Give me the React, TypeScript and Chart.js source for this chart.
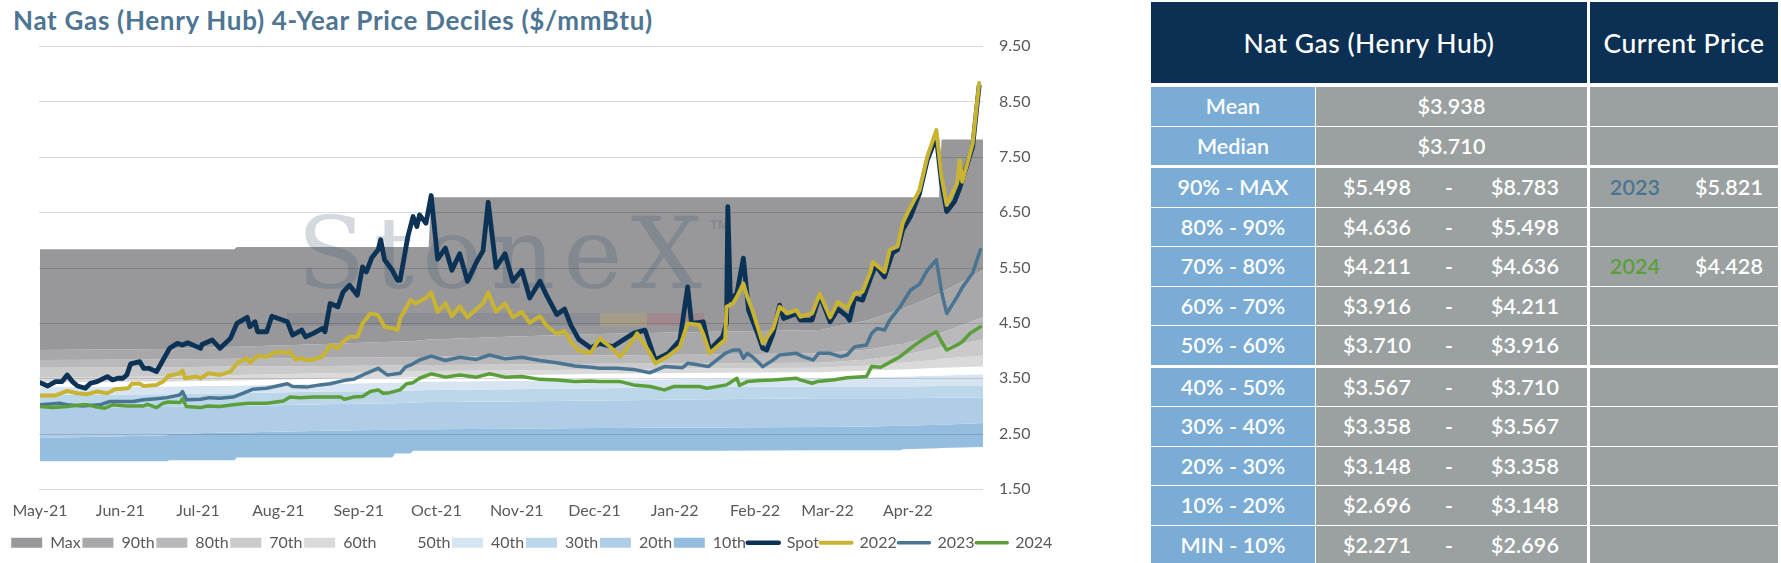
import React, { useEffect, useRef } from 'react';
import { Chart, registerables } from 'chart.js';

Chart.register(...registerables);

const FONT = 'Lato, "Noto Sans", sans-serif';
const AXIS_GREY = '#595959';

// ---------- axis labels ----------
const monthLabels = ['May-21', 'Jun-21', 'Jul-21', 'Aug-21', 'Sep-21', 'Oct-21', 'Nov-21', 'Dec-21', 'Jan-22', 'Feb-22', 'Mar-22', 'Apr-22'];
const monthStartDays = [0, 31, 61, 92, 123, 153, 184, 214, 245, 276, 304, 335];
const yTicks = [1.5, 2.5, 3.5, 4.5, 5.5, 6.5, 7.5, 8.5, 9.5];

// ---------- decile band boundaries (day index since May-21) ----------
const bandDays = [0, 49, 50, 75, 76, 110, 136, 137, 143, 144, 150, 151, 180, 216, 260, 301, 320, 332, 333, 347, 348, 364];
const bandMinVals = [2.0, 2.0, 2.02, 2.02, 2.07, 2.07, 2.07, 2.14, 2.14, 2.19, 2.19, 2.19, 2.19, 2.19, 2.19, 2.2, 2.2, 2.2, 2.22, 2.235, 2.24, 2.26];
const band10Vals = [2.42, 2.47, 2.5, 2.52, 2.52, 2.55, 2.57, 2.57, 2.58, 2.58, 2.58, 2.58, 2.59, 2.6, 2.61, 2.62, 2.63, 2.64, 2.64, 2.66, 2.66, 2.69];
const band20Vals = [2.97, 2.98, 2.98, 3.0, 3.0, 3.03, 3.05, 3.05, 3.06, 3.06, 3.07, 3.07, 3.08, 3.1, 3.12, 3.14, 3.14, 3.14, 3.14, 3.15, 3.15, 3.15];
const band30Vals = [3.2, 3.21, 3.21, 3.23, 3.23, 3.26, 3.27, 3.27, 3.28, 3.28, 3.29, 3.29, 3.3, 3.32, 3.34, 3.35, 3.35, 3.35, 3.35, 3.36, 3.36, 3.36];
const band40Vals = [3.34, 3.35, 3.35, 3.37, 3.37, 3.4, 3.42, 3.42, 3.43, 3.43, 3.44, 3.44, 3.45, 3.47, 3.49, 3.5, 3.52, 3.53, 3.53, 3.55, 3.55, 3.57];
const band50Vals = [3.43, 3.44, 3.44, 3.46, 3.46, 3.49, 3.51, 3.51, 3.52, 3.52, 3.53, 3.53, 3.55, 3.58, 3.6, 3.61, 3.64, 3.66, 3.66, 3.69, 3.69, 3.71];
const band60Vals = [3.51, 3.53, 3.53, 3.56, 3.56, 3.59, 3.61, 3.61, 3.62, 3.62, 3.63, 3.63, 3.64, 3.66, 3.68, 3.69, 3.73, 3.78, 3.78, 3.84, 3.85, 3.91];
const band70Vals = [3.69, 3.7, 3.7, 3.71, 3.71, 3.72, 3.73, 3.73, 3.73, 3.73, 3.74, 3.74, 3.75, 3.76, 3.77, 3.78, 3.84, 3.92, 3.92, 4.05, 4.06, 4.2];
const band80Vals = [3.83, 3.84, 3.84, 3.85, 3.85, 3.87, 3.88, 3.88, 3.88, 3.88, 3.89, 3.89, 3.9, 3.91, 3.93, 3.95, 4.02, 4.12, 4.12, 4.3, 4.32, 4.6];
const band90Vals = [4.01, 4.03, 4.03, 4.07, 4.07, 4.12, 4.16, 4.16, 4.17, 4.17, 4.2, 4.2, 4.25, 4.3, 4.34, 4.37, 4.55, 4.75, 4.75, 5.02, 5.05, 5.45];
const bandMaxVals = [5.83, 5.83, 5.83, 5.83, 5.87, 5.87, 5.87, 5.87, 5.87, 5.87, 5.87, 6.77, 6.77, 6.77, 6.77, 6.77, 6.77, 6.77, 6.77, 6.77, 7.81, 7.81];

const bandLabels = ['Max', '90th', '80th', '70th', '60th', '50th', '40th', '30th', '20th', '10th'];
const bandValues = [bandMaxVals, band90Vals, band80Vals, band70Vals, band60Vals, band50Vals, band40Vals, band30Vals, band20Vals, band10Vals];
const bandColors = ['#98989a', '#a8a8aa', '#b9b9bb', '#cacaca', '#dadada', '#ffffff', '#d7e5f2', '#bdd7ea', '#afcde6', '#95bddf'];

// ---------- price lines: [day, $/mmBtu] ----------
const spotPts = [[0, 3.42], [3, 3.36], [6, 3.44], [8.5, 3.44], [10.5, 3.56], [12.5, 3.44], [14.5, 3.36], [17.5, 3.32], [19.5, 3.41], [22, 3.44], [26, 3.53], [28, 3.47], [30, 3.5], [32, 3.5], [33.5, 3.56], [35, 3.76], [38.5, 3.8], [40, 3.68], [42, 3.68], [45, 3.62], [47.5, 3.83], [50, 4.04], [53, 4.13], [55, 4.1], [57, 4.14], [62, 4.04], [62.5, 4.11], [66.5, 4.19], [69.5, 4.04], [73.5, 4.22], [76, 4.49], [80, 4.6], [81, 4.43], [83, 4.52], [84, 4.34], [87.5, 4.34], [89.5, 4.62], [92, 4.58], [95.5, 4.52], [97.5, 4.28], [101, 4.37], [102.5, 4.25], [105.5, 4.31], [109, 4.4], [110, 4.34], [112, 4.85], [115, 4.79], [117, 5.06], [119.5, 5.18], [122.5, 5.0], [124.5, 5.51], [126, 5.42], [128, 5.67], [130.5, 5.82], [131.5, 6.0], [133, 5.64], [136, 5.45], [138, 5.27], [139, 5.27], [142, 6.06], [144, 6.42], [145.5, 6.24], [146.5, 6.45], [149, 6.3], [151, 6.8], [153.5, 5.65], [156.5, 5.85], [159, 5.45], [162, 5.75], [165, 5.25], [168.5, 5.6], [171, 5.8], [173, 6.68], [176, 5.5], [179.5, 5.75], [182.5, 5.25], [186, 5.45], [189, 4.95], [193, 5.25], [195.5, 5.0], [199.5, 4.65], [202.5, 4.75], [205, 4.45], [208, 4.2], [212.5, 4.05], [216, 4.13], [221, 4.07], [229, 4.31], [233.5, 4.37], [237.5, 3.83], [242.5, 3.95], [247, 4.19], [250, 5.15], [251.5, 4.49], [256, 4.52], [258.5, 4.01], [263.5, 4.25], [265, 4.5], [265.5, 6.6], [266.5, 4.91], [269, 5.03], [271.5, 5.67], [273.5, 4.73], [277, 4.31], [279, 4.04], [280.5, 4.01], [283, 4.31], [285.5, 4.82], [287, 4.58], [292, 4.67], [293.5, 4.55], [298, 4.55], [301, 5.0], [305, 4.52], [308, 4.75], [311.5, 4.62], [312.5, 4.55], [314.5, 4.95], [317.5, 4.91], [320.5, 5.3], [322.5, 5.54], [326, 5.33], [329, 5.76], [331, 5.82], [333, 6.18], [336, 6.42], [339.5, 6.84], [342.5, 7.44], [346, 7.86], [348, 7.02], [350, 6.51], [353, 6.69], [355, 6.93], [356, 7.08], [360, 7.68], [362.5, 8.78]];
const strip2022Pts = [[0, 3.19], [6, 3.19], [10.5, 3.27], [14.5, 3.23], [18, 3.21], [22, 3.26], [26, 3.23], [29, 3.3], [34, 3.32], [35.5, 3.4], [38.5, 3.4], [40, 3.36], [45, 3.38], [47.5, 3.44], [49.5, 3.54], [54, 3.59], [55, 3.64], [56, 3.5], [60.5, 3.53], [62, 3.5], [65, 3.59], [69.5, 3.56], [73.5, 3.62], [75.5, 3.74], [77, 3.8], [80, 3.86], [81, 3.78], [84, 3.9], [87.5, 3.89], [91.5, 3.98], [95.5, 3.96], [96.5, 3.98], [98.5, 3.84], [101, 3.86], [102.5, 3.83], [105, 3.83], [109, 3.89], [112, 4.1], [115, 4.04], [117, 4.16], [119.5, 4.25], [122.5, 4.25], [124.5, 4.49], [127.5, 4.67], [130.5, 4.64], [133, 4.43], [136, 4.4], [138, 4.37], [139, 4.58], [143, 4.91], [145, 4.85], [149, 4.95], [151, 5.05], [153.5, 4.7], [156.5, 4.85], [159, 4.62], [162, 4.8], [165, 4.6], [168.5, 4.75], [171, 4.85], [173, 5.05], [176, 4.7], [179.5, 4.85], [182.5, 4.6], [186, 4.7], [189, 4.5], [193, 4.62], [195.5, 4.45], [199.5, 4.3], [202.5, 4.35], [205, 4.15], [208, 4.0], [212.5, 3.95], [216, 4.22], [220, 4.07], [224, 3.89], [229, 4.2], [230.5, 4.31], [235.5, 3.95], [237.5, 3.77], [242.5, 3.9], [247, 4.07], [250, 4.49], [254.5, 4.46], [256, 4.3], [258.5, 3.95], [264.5, 4.2], [265, 4.79], [267.5, 4.85], [269, 4.97], [271.5, 5.21], [273, 4.97], [275, 4.73], [277, 4.43], [279, 4.13], [283, 4.4], [285.5, 4.79], [288.5, 4.67], [292, 4.73], [293.5, 4.61], [298, 4.67], [301, 5.03], [305, 4.6], [308, 4.88], [311.5, 4.76], [314.5, 5.03], [317.5, 5.06], [320.5, 5.42], [321.5, 5.6], [326, 5.42], [328, 5.82], [331, 5.88], [333, 6.3], [335, 6.5], [339.5, 6.9], [342.5, 7.5], [346, 7.98], [348, 7.14], [350, 6.63], [354, 7.02], [355, 7.44], [356, 7.05], [360, 7.74], [362.5, 8.83]];
const strip2023Pts = [[0, 3.02], [7.5, 3.05], [10.5, 3.02], [16.5, 3.0], [23, 3.02], [27, 3.08], [36, 3.08], [40, 3.11], [45, 3.13], [49, 3.15], [54, 3.2], [55, 3.26], [56.5, 3.11], [62, 3.12], [65.5, 3.15], [69.5, 3.14], [74.5, 3.16], [78.5, 3.23], [82, 3.3], [87.5, 3.32], [95.5, 3.4], [97.5, 3.35], [103, 3.34], [108, 3.38], [112, 3.4], [118.5, 3.47], [121, 3.48], [126, 3.59], [130.5, 3.68], [134, 3.56], [139, 3.59], [141, 3.7], [144, 3.76], [146.5, 3.83], [151, 3.9], [156.5, 3.82], [162, 3.88], [168.5, 3.84], [173.5, 3.92], [179.5, 3.85], [186, 3.88], [193, 3.82], [199.5, 3.78], [206.5, 3.72], [212.5, 3.7], [216, 3.68], [222.5, 3.68], [229, 3.66], [235.5, 3.6], [241, 3.71], [248, 3.69], [250, 3.77], [254.5, 3.74], [258, 3.71], [264.5, 3.95], [267.5, 4.01], [270, 4.01], [271.5, 3.86], [273, 3.95], [275, 3.89], [279, 3.71], [283, 3.83], [285.5, 3.92], [292, 3.95], [294.5, 3.89], [298.5, 3.83], [300.5, 3.95], [305, 3.95], [309, 3.89], [311.5, 3.92], [314.5, 4.07], [319, 4.1], [321, 4.31], [323, 4.4], [326, 4.37], [328, 4.55], [332, 4.79], [336, 5.09], [339.5, 5.2], [342.5, 5.45], [346, 5.64], [348, 5.06], [350, 4.67], [354, 4.97], [356, 5.14], [360, 5.4], [363, 5.82]];
const strip2024Pts = [[0, 2.99], [5, 2.97], [10.5, 2.99], [16.5, 3.02], [18.5, 3.02], [22, 2.98], [25, 2.96], [28, 3.02], [33.5, 3.0], [40, 3.0], [41.5, 3.03], [45, 2.97], [47.5, 3.05], [49.5, 3.07], [54, 3.06], [55, 3.13], [56.5, 2.99], [62, 2.97], [64.5, 3.0], [69.5, 2.99], [74.5, 3.02], [80.5, 3.05], [87.5, 3.05], [94, 3.09], [96.5, 3.16], [100.5, 3.15], [105.5, 3.16], [113, 3.16], [116, 3.16], [117.5, 3.12], [121, 3.16], [124.5, 3.17], [127.5, 3.26], [130.5, 3.29], [132.5, 3.23], [135, 3.24], [139, 3.29], [141.5, 3.4], [144, 3.42], [146.5, 3.5], [151, 3.58], [156.5, 3.52], [162, 3.56], [168.5, 3.52], [173.5, 3.58], [179.5, 3.52], [186, 3.53], [193, 3.48], [199.5, 3.47], [206.5, 3.44], [212.5, 3.45], [216, 3.44], [224, 3.44], [229, 3.38], [235.5, 3.35], [241, 3.29], [244.5, 3.35], [254.5, 3.35], [257.5, 3.32], [265, 3.38], [269, 3.5], [270, 3.37], [273, 3.44], [278, 3.46], [283, 3.47], [292, 3.5], [293.5, 3.47], [298, 3.41], [300, 3.44], [306, 3.47], [311.5, 3.51], [319, 3.53], [321, 3.71], [324.5, 3.7], [328.5, 3.8], [332, 3.89], [336, 4.04], [339.5, 4.16], [342.5, 4.25], [346, 4.34], [348, 4.16], [350, 4.01], [354, 4.1], [356, 4.16], [359, 4.31], [361, 4.37], [363, 4.43]];

const lineLabels = ['Spot', '2022', '2023', '2024'];
const lineValues = [spotPts, strip2022Pts, strip2023Pts, strip2024Pts];
const lineColors = ['#0c3356', '#c8b432', '#4a7592', '#5b9f3b'];
const lineWidths = [4.8, 4, 3.5, 3.5];

// ---------- table ----------
const tableLabels = ['Mean', 'Median', '90% - MAX', '80% - 90%', '70% - 80%', '60% - 70%', '50% - 60%', '40% - 50%', '30% - 40%', '20% - 30%', '10% - 20%', 'MIN - 10%'];
const tableLow = ['$3.938', '$3.710', '$5.498', '$4.636', '$4.211', '$3.916', '$3.710', '$3.567', '$3.358', '$3.148', '$2.696', '$2.271'];
const tableHigh = ['', '', '$8.783', '$5.498', '$4.636', '$4.211', '$3.916', '$3.710', '$3.567', '$3.358', '$3.148', '$2.696'];
const currentYears = ['', '', '2023', '', '2024', '', '', '', '', '', '', ''];
const currentPrices = ['', '', '$5.821', '', '$4.428', '', '', '', '', '', '', ''];
const yearColors: Record<string, string> = { '2023': '#4a7592', '2024': '#5b9f3b' };

const toXY = (days: number[], vals: number[]) => days.map((d, i) => ({ x: d, y: vals[i] }));
const pairsToXY = (p: number[][]) => p.map(([x, y]) => ({ x, y }));

const overlayPlugin = {
  id: 'overlay',
  beforeDatasetsDraw(chart: any) {
    const { ctx, chartArea: ca, scales } = chart;
    const ys = scales.y;
    ctx.save();
    // grid lines over the bands
    ctx.strokeStyle = 'rgba(0,0,0,0.15)';
    ctx.lineWidth = 1;
    yTicks.forEach((v) => {
      const py = Math.round(ys.getPixelForValue(v)) + 0.5;
      ctx.beginPath();
      ctx.moveTo(ca.left - 1, py);
      ctx.lineTo(ca.right, py);
      ctx.stroke();
    });
    // StoneX watermark
    const L = ca.left;
    const T = ca.top;
    ctx.fillStyle = 'rgba(55,80,105,0.22)';
    ctx.font = '100px "DejaVu Serif", "Liberation Serif", serif';
    ctx.textBaseline = 'alphabetic';
    const word = 'StoneX'.split('');
    const widths = word.map((c) => ctx.measureText(c).width);
    const total = widths.reduce((a, b) => a + b, 0);
    const gap = (405 - total) / (word.length - 1);
    let cx = L + 257;
    word.forEach((c, i) => {
      ctx.fillText(c, cx, T + 242);
      cx += widths[i] + gap;
    });
    ctx.font = 'bold 13px "Liberation Sans", sans-serif';
    ctx.fillText('TM', L + 670, T + 183);
    ctx.fillStyle = 'rgba(60,75,95,0.12)';
    ctx.fillRect(L + 247, T + 267, 313, 13);
    ctx.fillStyle = 'rgba(220,170,60,0.18)';
    ctx.fillRect(L + 560, T + 267, 47, 13);
    ctx.fillStyle = 'rgba(200,70,80,0.18)';
    ctx.fillRect(L + 607, T + 267, 57, 13);
    ctx.restore();
  },
};

function NatGasChart() {
  const ref = useRef<HTMLCanvasElement | null>(null);
  useEffect(() => {
    if (!ref.current) return;
    const bandSets = bandLabels.map((label, i) => ({
      label,
      data: toXY(bandDays, bandValues[i]),
      backgroundColor: bandColors[i],
      borderColor: bandColors[i],
      borderWidth: 0,
      pointRadius: 0,
      fill: i < bandLabels.length - 1 ? '+1' : bandLabels.length + lineLabels.length,
      order: 10,
    }));
    const lineSets = lineLabels.map((label, i) => ({
      label,
      data: pairsToXY(lineValues[i]),
      borderColor: lineColors[i],
      backgroundColor: lineColors[i],
      borderWidth: lineWidths[i],
      pointRadius: 0,
      fill: false,
      tension: 0,
      borderJoinStyle: 'round',
      borderCapStyle: 'round',
      order: 4 - i,
    }));
    const minSet = {
      label: '',
      data: toXY(bandDays, bandMinVals),
      backgroundColor: 'rgba(0,0,0,0)',
      borderWidth: 0,
      pointRadius: 0,
      fill: false,
      order: 10,
    };
    const datasets: any[] = [...bandSets, ...lineSets, minSet];
    const chart = new Chart(ref.current, {
      type: 'line',
      data: { datasets },
      options: {
        responsive: false,
        animation: false,
        events: [],
        layout: { padding: { left: 9.5, right: 7, top: 46, bottom: 2.3 } },
        plugins: {
          tooltip: { enabled: false },
          title: { display: false },
          filler: { drawTime: 'beforeDatasetsDraw', propagate: false },
          legend: {
            position: 'bottom',
            align: 'start',
            onClick: () => {},
            labels: {
              font: { family: FONT, size: 16 },
              color: AXIS_GREY,
              usePointStyle: true,
              pointStyleWidth: 31,
              boxHeight: 10,
              padding: 1.7,
              generateLabels: (c: any) =>
                c.data.datasets
                  .map((ds: any, i: number) => ({ ds, i }))
                  .filter(({ ds }: any) => ds.label)
                  .map(({ ds, i }: any) => {
                    const isLine = ds.fill === false;
                    return {
                      text: ds.label,
                      fillStyle: ds.backgroundColor,
                      strokeStyle: ds.borderColor,
                      lineWidth: isLine ? Math.min(ds.borderWidth, 4.5) : 0,
                      lineCap: 'round',
                      pointStyle: isLine ? 'line' : 'rect',
                      hidden: false,
                      fontColor: AXIS_GREY,
                      datasetIndex: i,
                    };
                  }),
            },
          },
        } as any,
        scales: {
          x: {
            type: 'linear',
            min: 0,
            max: 364,
            grid: { display: false, drawTicks: false },
            border: { display: false },
            afterBuildTicks: (s: any) => {
              s.ticks = monthStartDays.map((v) => ({ value: v }));
            },
            afterFit: (s: any) => {
              s.height = 44;
            },
            ticks: {
              autoSkip: false,
              maxRotation: 0,
              padding: 12.4,
              color: AXIS_GREY,
              font: { family: FONT, size: 16 },
              callback: (v: any) => monthLabels[monthStartDays.indexOf(Number(v))],
            },
          },
          y: {
            position: 'right',
            min: 1.5,
            max: 9.5,
            grid: { display: false, drawTicks: false },
            border: { display: false },
            afterBuildTicks: (s: any) => {
              s.ticks = yTicks.map((v) => ({ value: v }));
            },
            afterFit: (s: any) => {
              s.width = 120;
            },
            ticks: {
              padding: 16,
              color: AXIS_GREY,
              font: { family: FONT, size: 16 },
              callback: (v: any) => Number(v).toFixed(2),
            },
          },
          yL: {
            position: 'left',
            display: true,
            grid: { display: false, drawTicks: false },
            border: { display: false },
            ticks: { display: false },
            afterFit: (s: any) => {
              s.width = 30.5;
            },
          },
        } as any,
      },
      plugins: [overlayPlugin],
    });
    return () => chart.destroy();
  }, []);
  return <canvas ref={ref} width={1110} height={563} style={{ position: 'absolute', left: 0, top: 0, width: 1110, height: 563 }} />;
}

const TABLE_LEFT = 1151;
const LABEL_W = 164;
const VALUE_LEFT = 1316;
const VALUE_W = 271;
const CUR_LEFT = 1590;
const CUR_W = 188;
const ROW_H = 38.5;

function rowTop(i: number) {
  return 87 + i * 39.5 + (i >= 2 ? 2 : 0) + (i >= 7 ? 2 : 0);
}

const cellText: React.CSSProperties = {
  position: 'absolute',
  color: '#ffffff',
  fontFamily: FONT,
  fontSize: 21.5,
  fontWeight: 600,
  letterSpacing: '0.1px',
  lineHeight: `${ROW_H}px`,
  height: ROW_H,
  top: 0,
  textAlign: 'center',
  whiteSpace: 'nowrap',
};

const headerStyle: React.CSSProperties = {
  position: 'absolute',
  top: 2,
  height: 81,
  background: '#0b3053',
  color: '#fff',
  fontFamily: FONT,
  fontSize: 26.5,
  fontWeight: 500,
  letterSpacing: '0.5px',
  display: 'flex',
  alignItems: 'center',
  justifyContent: 'center',
  whiteSpace: 'nowrap',
};

function DecileTable() {
  return (
    <>
      <div style={{ ...headerStyle, left: TABLE_LEFT, width: CUR_LEFT - 3 - TABLE_LEFT }}>Nat Gas (Henry Hub)</div>
      <div style={{ ...headerStyle, left: CUR_LEFT, width: CUR_W }}>Current Price</div>
      {tableLabels.map((lab, i) => {
        const top = rowTop(i);
        return (
          <React.Fragment key={lab}>
            <div style={{ position: 'absolute', left: TABLE_LEFT, top, width: LABEL_W, height: ROW_H, background: '#7aacd6' }}>
              <div style={{ ...cellText, left: 0, width: LABEL_W }}>{lab}</div>
            </div>
            <div style={{ position: 'absolute', left: VALUE_LEFT, top, width: VALUE_W, height: ROW_H, background: '#9aa1a0' }}>
              {tableHigh[i] === '' ? (
                <div style={{ ...cellText, left: 0, width: VALUE_W }}>{tableLow[i]}</div>
              ) : (
                <>
                  <div style={{ ...cellText, left: 11, width: 100 }}>{tableLow[i]}</div>
                  <div style={{ ...cellText, left: 113, width: 40 }}>-</div>
                  <div style={{ ...cellText, left: 159, width: 100 }}>{tableHigh[i]}</div>
                </>
              )}
            </div>
            <div style={{ position: 'absolute', left: CUR_LEFT, top, width: CUR_W, height: ROW_H, background: '#9aa1a0' }}>
              {currentYears[i] && (
                <>
                  <div style={{ ...cellText, left: 5, width: 80, color: yearColors[currentYears[i]] }}>{currentYears[i]}</div>
                  <div style={{ ...cellText, left: 89, width: 100 }}>{currentPrices[i]}</div>
                </>
              )}
            </div>
          </React.Fragment>
        );
      })}
    </>
  );
}

export default function App() {
  return (
    <div style={{ position: 'absolute', left: 0, top: 0, width: 1781, height: 563, background: '#ffffff', overflow: 'hidden' }}>
      <div style={{ position: 'absolute', left: 13, top: 7, fontFamily: FONT, fontWeight: 700, fontSize: 26, lineHeight: '26px', letterSpacing: '0.7px', color: '#4e7593', whiteSpace: 'nowrap' }}>
        Nat Gas (Henry Hub) 4-Year Price Deciles ($/mmBtu)
      </div>
      <NatGasChart />
      <DecileTable />
    </div>
  );
}
